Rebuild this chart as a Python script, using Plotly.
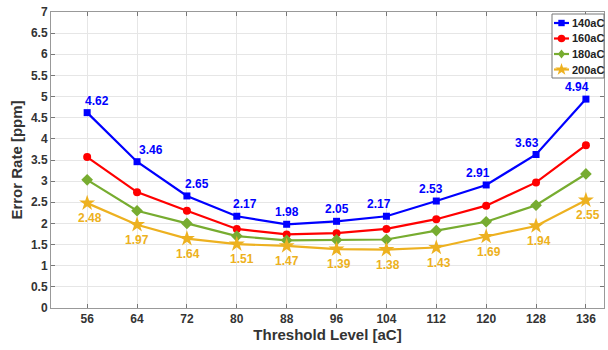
import math
import plotly.graph_objects as go

thresholds = [56, 64, 72, 80, 88, 96, 104, 112, 120, 128, 136]
s140 = [4.62, 3.46, 2.65, 2.17, 1.98, 2.05, 2.17, 2.53, 2.91, 3.63, 4.94]
s160 = [3.57, 2.74, 2.30, 1.87, 1.74, 1.77, 1.87, 2.10, 2.42, 2.97, 3.85]
s180 = [3.03, 2.30, 2.00, 1.70, 1.60, 1.61, 1.62, 1.83, 2.04, 2.43, 3.17]
s200 = [2.48, 1.97, 1.64, 1.51, 1.47, 1.39, 1.38, 1.43, 1.69, 1.94, 2.55]
series_names = ["140aC", "160aC", "180aC", "200aC"]
y_ticks = [0, 0.5, 1, 1.5, 2, 2.5, 3, 3.5, 4, 4.5, 5, 5.5, 6, 6.5, 7]

blue_xshift = [10, 14, 10, 8, 0, 0, -7, -5, -8, -9, -9]
yellow_xshift = [3, 0, 1, 5, 0, 2, 2, 3, 3, 3, 2]

colors = ["#0000FF", "#FF0000", "#77AC30", "#EDB120"]
symbols = ["square", "circle", "diamond", "star"]
sizes = [7, 8, 9, 12]

FONT = "Liberation Sans"
W, H = 608, 350
ML, MR, MT, MB = 51, 4, 12, 42
PW, PH = W - ML - MR, H - MT - MB


def px(x):
    return (x - ML) / PW


def py(y):
    return (H - MB - y) / PH


fig = go.Figure()
for name, vals, c, sym, sz in zip(series_names, [s140, s160, s180, s200], colors, symbols, sizes):
    fig.add_trace(go.Scatter(
        x=thresholds, y=vals, name=name, mode="lines+markers",
        line=dict(color=c, width=2.2),
        marker=dict(symbol=sym, size=sz, color=c, line=dict(width=0)),
        showlegend=False,
    ))

for x, y, xs in zip(thresholds, s140, blue_xshift):
    fig.add_annotation(x=x, y=y, text=f"<b>{y:.2f}</b>", showarrow=False,
                       xshift=xs, yshift=12, font=dict(color="#0000FF", size=12, family=FONT))
for x, y, xs in zip(thresholds, s200, yellow_xshift):
    fig.add_annotation(x=x, y=y, text=f"<b>{y:.2f}</b>", showarrow=False,
                       xshift=xs, yshift=-15, font=dict(color="#EDB120", size=12, family=FONT))

# ---- compact legend box (MATLAB style) ----
shapes = []
lx0, lx1, ly0, ly1 = 552, 604, 14, 78
shapes.append(dict(type="rect", xref="paper", yref="paper",
                   x0=px(lx0), x1=px(lx1), y0=py(ly1), y1=py(ly0),
                   line=dict(color="#777777", width=1), fillcolor="white", layer="above"))
row_y = [23, 38.5, 54, 69.5]
for i, (name, c) in enumerate(zip(series_names, colors)):
    yy = row_y[i]
    shapes.append(dict(type="line", xref="paper", yref="paper",
                       x0=px(554), x1=px(569), y0=py(yy), y1=py(yy),
                       line=dict(color=c, width=2.2), layer="above"))
    cx = 561.5
    if i == 0:
        s = 3.2
        shapes.append(dict(type="rect", xref="paper", yref="paper",
                           x0=px(cx - s), x1=px(cx + s), y0=py(yy + s), y1=py(yy - s),
                           fillcolor=c, line=dict(width=0), layer="above"))
    elif i == 1:
        r = 3.8
        shapes.append(dict(type="circle", xref="paper", yref="paper",
                           x0=px(cx - r), x1=px(cx + r), y0=py(yy + r), y1=py(yy - r),
                           fillcolor=c, line=dict(width=0), layer="above"))
    elif i == 2:
        r = 4.5
        path = (f"M {px(cx)} {py(yy - r)} L {px(cx + r * 0.8)} {py(yy)} "
                f"L {px(cx)} {py(yy + r)} L {px(cx - r * 0.8)} {py(yy)} Z")
        shapes.append(dict(type="path", xref="paper", yref="paper", path=path,
                           fillcolor=c, line=dict(width=0), layer="above"))
    else:
        ro, ri = 6.5, 2.6
        pts = []
        for k in range(10):
            ang = -math.pi / 2 + k * math.pi / 5
            rr = ro if k % 2 == 0 else ri
            pts.append((cx + rr * math.cos(ang), yy + rr * math.sin(ang)))
        path = "M " + " L ".join(f"{px(a)} {py(b)}" for a, b in pts) + " Z"
        shapes.append(dict(type="path", xref="paper", yref="paper", path=path,
                           fillcolor=c, line=dict(width=0), layer="above"))
    fig.add_annotation(xref="paper", yref="paper", x=px(570), y=py(yy),
                       xanchor="left", yanchor="middle", showarrow=False,
                       text=f"<b>{name}</b>", font=dict(family=FONT, size=11, color="#222222"))

axis_common = dict(
    showline=True, linecolor="#999999", linewidth=1, mirror="ticks",
    ticks="inside", ticklen=4, tickcolor="#777777",
    showgrid=True, gridcolor="#E6E6E6", gridwidth=1, zeroline=False,
    tickfont=dict(family=FONT, size=12, color="#333333"),
)

fig.update_xaxes(range=[50.2, 138.9], tickvals=thresholds,
                 ticktext=[f"<b>{t}</b>" for t in thresholds],
                 title=dict(text="<b>Threshold Level [aC]</b>", font=dict(family=FONT, size=15, color="#333333"), standoff=4),
                 **axis_common)
fig.update_yaxes(range=[0, 7], tickvals=y_ticks,
                 ticktext=[f"<b>{t:g}</b>" for t in y_ticks],
                 title=dict(text="<b>Error Rate [ppm]</b>", font=dict(family=FONT, size=15, color="#333333"), standoff=4),
                 **axis_common)

fig.update_layout(
    width=W, height=H,
    margin=dict(l=ML, r=MR, t=MT, b=MB),
    paper_bgcolor="white", plot_bgcolor="white",
    showlegend=False,
    shapes=shapes,
)

fig.write_html("out.html")
